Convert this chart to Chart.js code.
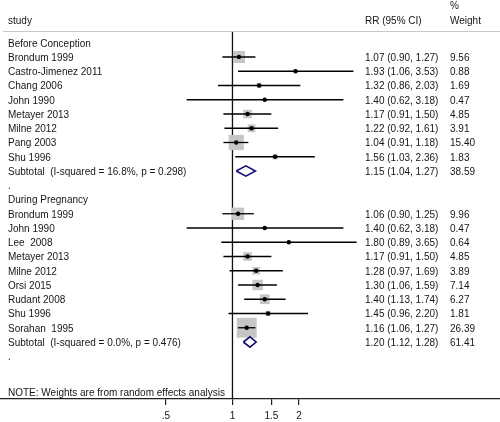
<!DOCTYPE html>
<html>
<head>
<meta charset="utf-8">
<script src="https://cdn.jsdelivr.net/npm/chart.js@4.4.0/dist/chart.umd.min.js"></script>
<style>
  html, body { margin: 0; padding: 0; background: #ffffff; }
  #wrap { width: 500px; height: 422px; }
</style>
</head>
<body>
<div id="wrap"><canvas id="c" width="500" height="422"></canvas></div>
<script>
// ---- data ----
const rowLabels = [
  "Before Conception",
  "Brondum 1999",
  "Castro-Jimenez 2011",
  "Chang 2006",
  "John 1990",
  "Metayer 2013",
  "Milne 2012",
  "Pang 2003",
  "Shu 1996",
  "Subtotal  (I-squared = 16.8%, p = 0.298)",
  ".",
  "During Pregnancy",
  "Brondum 1999",
  "John 1990",
  "Lee  2008",
  "Metayer 2013",
  "Milne 2012",
  "Orsi 2015",
  "Rudant 2008",
  "Shu 1996",
  "Sorahan  1995",
  "Subtotal  (I-squared = 0.0%, p = 0.476)",
  "."
];
const estimates = [null, 1.07, 1.93, 1.32, 1.40, 1.17, 1.22, 1.04, 1.56, 1.15, null,
                   null, 1.06, 1.40, 1.80, 1.17, 1.28, 1.30, 1.40, 1.45, 1.16, 1.20, null];
const lowerCI   = [null, 0.90, 1.06, 0.86, 0.62, 0.91, 0.92, 0.91, 1.03, 1.04, null,
                   null, 0.90, 0.62, 0.89, 0.91, 0.97, 1.06, 1.13, 0.96, 1.06, 1.12, null];
const upperCI   = [null, 1.27, 3.53, 2.03, 3.18, 1.50, 1.61, 1.18, 2.36, 1.27, null,
                   null, 1.25, 3.18, 3.65, 1.50, 1.69, 1.59, 1.74, 2.20, 1.27, 1.28, null];
const weights   = [null, 9.56, 0.88, 1.69, 0.47, 4.85, 3.91, 15.40, 1.83, 38.59, null,
                   null, 9.96, 0.47, 0.64, 4.85, 3.89, 7.14, 6.27, 1.81, 26.39, 61.41, null];
const subtotalRows = [9, 21];
const tickValues = [0.5, 1, 1.5, 2];
const tickLabels = [".5", "1", "1.5", "2"];
const headerStudy = "study";
const headerRR = "RR (95% CI)";
const headerPct = "%";
const headerWeight = "Weight";
const noteText = "NOTE: Weights are from random effects analysis";

// ---- build datasets ----
const FONT = '10px "Liberation Sans", Arial, Helvetica, sans-serif';
const HEADER_ROW = -0.8;
const TEXT_NUDGE = 1;
const studyIdx = [];
rowLabels.forEach((l, i) => {
  if (estimates[i] !== null && !subtotalRows.includes(i)) studyIdx.push(i);
});

const datasets = [];
// point estimate dots (top)
datasets.push({
  type: 'scatter', order: 0,
  data: studyIdx.map(i => ({x: estimates[i], y: i})),
  pointStyle: 'circle', pointRadius: 2.2, pointBackgroundColor: '#000', pointBorderWidth: 0,
  showLine: false
});
// confidence interval lines
studyIdx.forEach(i => {
  datasets.push({
    type: 'scatter', order: 1, showLine: true,
    data: [{x: lowerCI[i], y: i}, {x: upperCI[i], y: i}],
    borderColor: '#000', borderWidth: 1.3, pointRadius: 0, fill: false
  });
});
// subtotal diamonds
subtotalRows.forEach(i => {
  const h = 0.36;
  datasets.push({
    type: 'scatter', order: 1, showLine: true,
    data: [
      {x: lowerCI[i], y: i}, {x: estimates[i], y: i - h},
      {x: upperCI[i], y: i}, {x: estimates[i], y: i + h},
      {x: lowerCI[i], y: i}
    ],
    borderColor: '#101070', borderWidth: 1.6, pointRadius: 0, fill: false, tension: 0
  });
});
// weight boxes
const BOX_K = 3.89;
datasets.push({
  type: 'scatter', order: 2,
  data: studyIdx.map(i => ({x: estimates[i], y: i})),
  pointStyle: 'rect',
  pointRadius: studyIdx.map(i => BOX_K * Math.sqrt(weights[i]) / Math.SQRT2),
  pointBackgroundColor: '#c6c6c6', pointBorderWidth: 0, showLine: false
});
// null reference line at 1
datasets.push({
  type: 'scatter', order: 3, showLine: true,
  data: [{x: 1, y: HEADER_ROW}, {x: 1, y: 25}],
  borderColor: '#111', borderWidth: 1.3, pointRadius: 0
});

// ---- text plugin ----
const textPlugin = {
  id: 'forestText',
  afterDatasetsDraw(chart) {
    const ctx = chart.ctx;
    const ys = chart.scales.y;
    const area = chart.chartArea;
    ctx.save();
    // header line
    ctx.strokeStyle = '#c8c8c8';
    ctx.lineWidth = 1;
    ctx.beginPath();
    const hy = Math.round(ys.getPixelForValue(HEADER_ROW)) + 0.5;
    ctx.moveTo(area.left + 3, hy);
    ctx.lineTo(area.right, hy);
    ctx.stroke();

    ctx.font = FONT;
    ctx.fillStyle = '#161616';
    ctx.textBaseline = 'middle';
    ctx.textAlign = 'left';
    const xStudy = area.left + 8;
    const xRR = area.left + 365;
    const xW = area.left + 450;
    const py = v => ys.getPixelForValue(v) + TEXT_NUDGE;
    ctx.fillText(headerStudy, xStudy, py(-1.6));
    ctx.fillText(headerRR, xRR, py(-1.55));
    ctx.fillText(headerPct, xW, py(-2.65));
    ctx.fillText(headerWeight, xW, py(-1.6));

    rowLabels.forEach((lab, i) => {
      const y = py(i);
      ctx.fillText(lab, xStudy, y);
      if (estimates[i] !== null) {
        const s = estimates[i].toFixed(2) + ' (' + lowerCI[i].toFixed(2) + ', ' + upperCI[i].toFixed(2) + ')';
        ctx.fillText(s, xRR, y);
        ctx.fillText(weights[i].toFixed(2), xW, y);
      }
    });
    ctx.fillText(noteText, xStudy, py(24.5));
    ctx.restore();
  }
};

new Chart(document.getElementById('c'), {
  type: 'scatter',
  data: { datasets },
  options: {
    responsive: false,
    animation: false,
    devicePixelRatio: 1,
    layout: { padding: { top: 0, left: 0, right: 0, bottom: -5 }, autoPadding: false },
    plugins: { legend: { display: false }, tooltip: { enabled: false } },
    scales: {
      x: {
        type: 'logarithmic',
        position: 'bottom',
        min: 0.0886,
        max: 16.27,
        afterBuildTicks(scale) {
          scale.ticks = tickValues.map(v => ({ value: v }));
        },
        grid: { display: true, drawOnChartArea: false, drawTicks: true, tickLength: 6, color: '#222', lineWidth: 1.2 },
        border: { display: true, color: '#222', width: 1.3 },
        ticks: {
          autoSkip: false, maxRotation: 0, padding: 5,
          color: '#161616',
          font: { family: '"Liberation Sans", Arial, Helvetica, sans-serif', size: 10, lineHeight: 1.2 },
          callback(value, index) { return tickLabels[index]; }
        }
      },
      y: {
        type: 'linear',
        reverse: true,
        min: -3,
        max: 25,
        display: false
      }
    }
  },
  plugins: [textPlugin]
});
</script>
</body>
</html>
